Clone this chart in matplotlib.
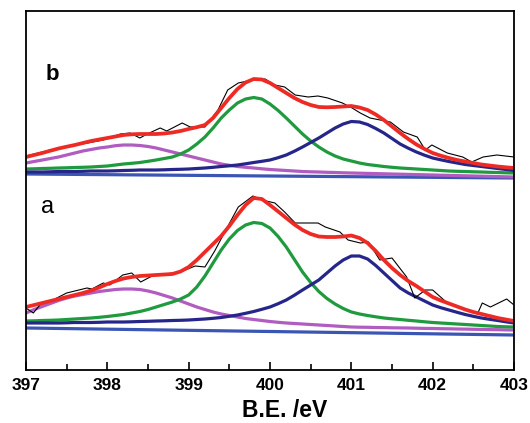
import numpy as np
import matplotlib
matplotlib.use('Agg')
import matplotlib.pyplot as plt

plt.rcParams['font.family'] = ['Liberation Sans', 'DejaVu Sans']

# binding energy grid for the fitted curves (eV), 0.1 eV steps
be_grid = [round(397.0 + 0.1 * i, 1) for i in range(61)]

# ---- spectrum b (upper) ----
b_base_x = [397.0, 403.0]
b_base_y = [196, 192]
b_peak1 = [207, 208.5, 210, 211.5, 213, 215, 217, 219, 220.5, 222,
           223, 224.3, 225, 225, 224.5, 223.5, 222, 220, 218, 216,
           214, 212, 210, 208, 206, 204.7, 203.5, 202.7, 202, 201.2,
           200.5, 200, 199.5, 199, 198.5, 198.2, 198, 197.7, 197.5, 197.2,
           197, 196.8, 196.6, 196.4, 196.2, 196, 195.8, 195.6, 195.4, 195.2,
           195, 194.8, 194.6, 194.4, 194.2, 194, 193.8, 193.6, 193.4, 193.2, 193]
b_peak2 = [201, 201.2, 201.5, 201.7, 202, 202.2, 202.5, 202.7, 203, 203.5,
           204, 205, 206, 206.7, 207.5, 208.7, 210, 211.5, 213, 216,
           220, 226, 233, 242, 252, 260, 267, 271, 272.5, 271,
           266, 259.5, 252, 244, 236, 229, 223, 218, 214, 211,
           209, 207, 205.5, 204.5, 203.5, 202.7, 202, 201.5, 201, 200.5,
           200, 199.5, 199, 198.7, 198.5, 198.2, 198, 197.7, 197.5, 197.2, 197]
b_peak3 = [198, 198, 198, 198.2, 198.5, 198.5, 198.5, 198.7, 199, 199,
           199, 199.2, 199.5, 199.7, 200, 200, 200, 200.2, 200.5, 200.7,
           201, 201.5, 202, 202.7, 203.5, 204.2, 205, 206.2, 207.5, 208.7,
           210, 212.3, 215, 218.8, 223, 227.5, 232, 237, 242, 246,
           248.5, 248, 245.5, 241.5, 237, 231.5, 226, 221.8, 218, 214.8,
           212, 210.2, 208.5, 207, 205.5, 204.5, 203.5, 202.5, 201.5, 200.5, 199.5]
b_envelope = [213, 215, 217, 219.3, 221.5, 223.3, 225, 227, 229, 230.5,
              232, 233.5, 235, 235.7, 236, 236, 236, 236.5, 237.5, 239,
              241, 242.8, 245, 252, 262, 272, 281, 287.5, 291, 290.5,
              287, 282, 277, 272, 268, 265, 263, 262.7, 263, 263.5,
              264, 262.5, 260, 255.5, 250, 243.5, 237, 231, 225.5, 221,
              217, 214.3, 212, 210, 208.5, 207, 205.5, 204.5, 203.5, 202.7, 202]
b_raw_x = [397.00, 397.30, 397.54, 397.76, 397.95, 398.16, 398.28, 398.40, 398.49, 398.65,
           398.73, 398.92, 399.02, 399.20, 399.36, 399.48, 399.61, 399.78, 399.94, 400.06,
           400.18, 400.31, 400.47, 400.59, 400.71, 400.89, 401.01, 401.11, 401.23, 401.48,
           401.64, 401.81, 401.91, 401.99, 402.18, 402.37, 402.48, 402.62, 402.79, 403.00]
b_raw_y = [214, 220, 224, 227, 230, 236, 237, 232, 236, 242, 239, 247, 243, 243, 260, 280,
           287, 290, 291, 285, 283, 275, 273, 274, 272, 267, 262, 257, 252, 248, 238, 233,
           220, 225, 217, 213, 208, 213, 215, 213]

# ---- spectrum a (lower) ----
a_base_x = [397.0, 403.0]
a_base_y = [42, 35]
a_peak1 = [57, 60.5, 63.5, 66.5, 69.5, 72, 74, 75.5, 77, 78.5,
           79.5, 80.5, 81, 81, 80.5, 79, 77, 74.5, 72, 69,
           66, 63, 60.5, 58, 56, 54.5, 53, 51.5, 50.5, 49.5,
           48.5, 47.7, 47, 46.5, 46, 45.5, 45, 44.5, 44, 43.5,
           43, 42.8, 42.7, 42.5, 42.4, 42.2, 42.1, 42, 41.8, 41.6,
           41.5, 41.3, 41.2, 41, 40.9, 40.7, 40.6, 40.4, 40.3, 40.1, 40]
a_peak2 = [49, 49.2, 49.5, 49.7, 50, 50.5, 51, 51.5, 52, 52.7,
           53.5, 54.5, 55.5, 57, 58.5, 60.5, 63, 65.5, 68, 71,
           75, 83, 94, 107, 120, 131, 139.5, 145, 147.5, 146.5,
           142, 133.5, 123, 110.5, 98, 87.5, 78.5, 71.5, 66, 61.5,
           58, 56, 54.5, 53.2, 52, 51.2, 50.5, 49.7, 49, 48.2,
           47.5, 47, 46.5, 46, 45.5, 45, 44.5, 44, 43.5, 43.2, 43]
a_peak3 = [47, 47, 47, 47, 47, 47.2, 47.5, 47.5, 47.5, 47.7,
           48, 48, 48, 48.2, 48.5, 48.7, 49, 49.2, 49.5, 49.7,
           50, 50.5, 51, 51.7, 52.5, 53.7, 55, 56.7, 58.5, 60.7,
           63, 66.3, 70, 74.8, 80, 85, 90, 97, 104, 110,
           114, 114, 111, 104.5, 97, 89.5, 82, 77, 73, 69,
           65, 62.3, 60, 57.7, 55.5, 53.7, 52, 50.7, 49.5, 48.2, 47]
a_envelope = [63, 65, 67, 69, 71, 73, 75, 77, 79.5, 82.5,
              86, 89, 91.5, 93, 94, 94.5, 95, 95.5, 96, 98.5,
              103, 110, 118, 126, 134, 144, 155, 165, 172, 171,
              165, 158.5, 152, 145.5, 140, 136, 133.5, 133, 133, 133.5,
              134.5, 132, 127, 119, 110, 102, 95, 89, 84, 78.5,
              73, 69.5, 66.5, 63.5, 60.5, 58, 56, 54, 52, 50.5, 49]
a_raw_x = [397.00, 397.09, 397.17, 397.33, 397.50, 397.75, 397.81, 397.95, 398.03, 398.19,
           398.30, 398.41, 398.55, 398.89, 398.96, 399.08, 399.20, 399.32, 399.45, 399.61,
           399.79, 399.90, 400.06, 400.18, 400.31, 400.43, 400.59, 400.68, 400.86, 400.96,
           401.11, 401.21, 401.35, 401.50, 401.68, 401.78, 401.91, 402.00, 402.18, 402.43,
           402.55, 402.61, 402.71, 402.91, 403.00]
a_raw_y = [62, 57, 65, 70, 77, 82, 81, 87, 85, 95, 97, 88, 94, 98, 100, 104, 103, 119, 139,
           163, 174, 170, 167, 158, 147, 147, 147, 143, 138, 130, 127, 128, 110, 112, 93, 72,
           80, 80, 67, 60, 56, 67, 63, 71, 65]

xticks = [397, 398, 399, 400, 401, 402, 403]

c_base = '#3a55b4'
c_p1 = '#b05cc0'
c_p2 = '#1f9a3e'
c_p3 = '#26268a'
c_env = '#ee2a24'

fig = plt.figure(figsize=(5.30, 4.23), dpi=100)
ax = fig.add_axes([26 / 530, 1 - 370 / 423, 488 / 530, 359 / 423])

for base_x, base_y, p1, p2, p3, env, rx, ry in [
        (b_base_x, b_base_y, b_peak1, b_peak2, b_peak3, b_envelope, b_raw_x, b_raw_y),
        (a_base_x, a_base_y, a_peak1, a_peak2, a_peak3, a_envelope, a_raw_x, a_raw_y)]:
    ax.plot(base_x, base_y, c=c_base, lw=2.3, solid_capstyle='butt')
    ax.plot(be_grid, p1, c=c_p1, lw=2.3)
    ax.plot(be_grid, p2, c=c_p2, lw=2.3)
    ax.plot(be_grid, p3, c=c_p3, lw=2.3)
    ax.plot(rx, ry, c='black', lw=0.8)
    ax.plot(be_grid, env, c=c_env, lw=2.7)

ax.text(0.053, 0.824, 'b', transform=ax.transAxes, fontsize=16, fontweight='bold',
        ha='center', va='center')
ax.text(0.044, 0.455, 'a', transform=ax.transAxes, fontsize=17,
        ha='center', va='center')

ax.set_xlim(397, 403)
ax.set_ylim(0, 359)
ax.set_xticks(xticks)
ax.set_xticks(np.arange(397.5, 403, 1.0), minor=True)
ax.set_yticks([])
ax.tick_params(axis='x', which='major', direction='in', length=6, width=1.2,
               top=False, labelsize=12.5, pad=6)
ax.tick_params(axis='x', which='minor', direction='in', length=4, width=1.2, top=False)
for lab in ax.get_xticklabels():
    lab.set_fontweight('bold')
for s in ax.spines.values():
    s.set_linewidth(1.3)
ax.set_xlabel('B.E. /eV', fontsize=16.5, fontweight='bold')
ax.xaxis.set_label_coords(0.529, -0.082)

fig.savefig('out.png', dpi=100)
